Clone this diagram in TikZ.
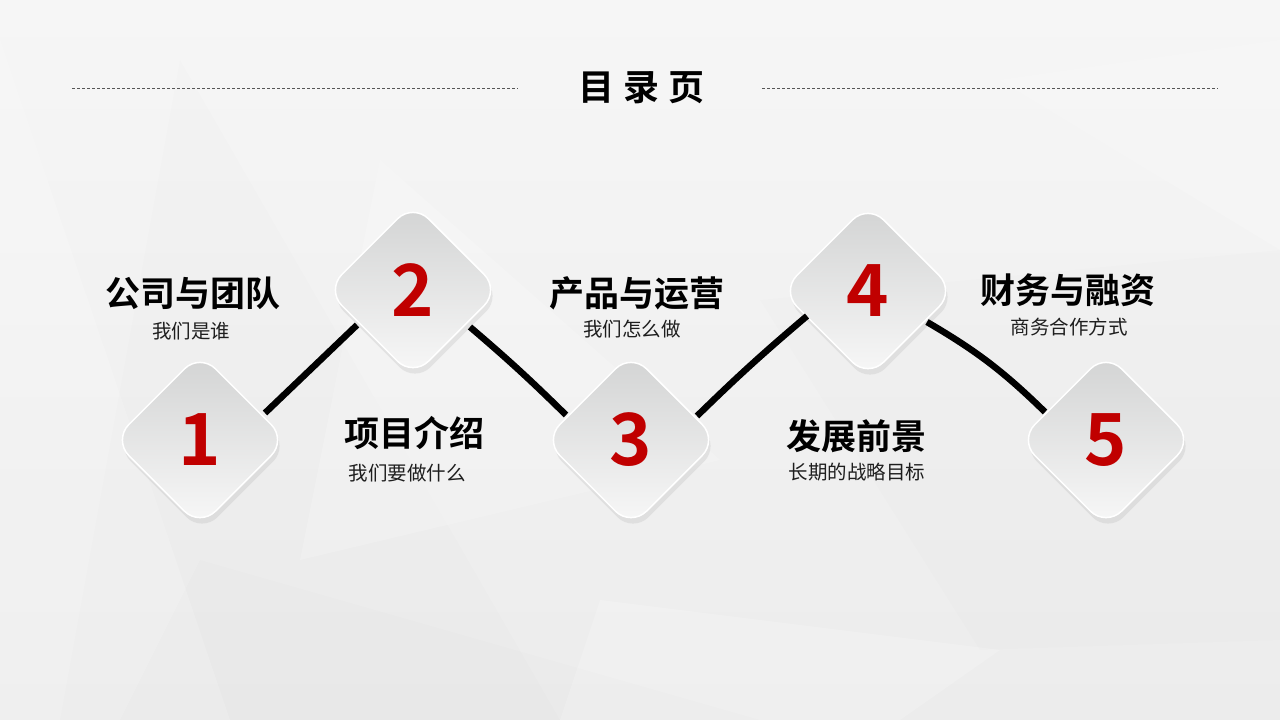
\documentclass[tikz,border=0pt]{standalone}
\usepackage{fontspec}
\setmainfont{Noto Sans CJK SC}[BoldFont={Noto Sans CJK SC Bold}]
\usetikzlibrary{shapes.geometric,shadows}
\definecolor{bgtop}{HTML}{F6F6F6}
\definecolor{bgbot}{HTML}{ECECEC}
\definecolor{diatop}{HTML}{D2D3D3}
\definecolor{diabot}{HTML}{F8F8F8}
\definecolor{numred}{HTML}{C00000}
\definecolor{dashgray}{HTML}{555555}
\definecolor{subtext}{HTML}{1E1E1E}
\tikzset{
  dia/.style={diamond, aspect=1, minimum width=174pt, minimum height=174pt,
    inner sep=0pt, rounded corners=22pt, top color=diatop, bottom color=diabot,
    draw=white, line width=1.5pt,
    drop shadow={shadow xshift=2pt, shadow yshift=-6pt, opacity=0.14},
    font=\bfseries\fontsize{72}{72}\selectfont, text=numred},
  wave/.style={line width=6.5pt, black, line cap=butt},
  head/.style={font=\bfseries\fontsize{35}{40}\selectfont, text=black, inner sep=0pt},
  sub/.style={font=\fontsize{19.5}{22}\selectfont, text=subtext, inner sep=0pt},
  dashline/.style={dash pattern=on 3pt off 2pt, line width=0.8pt, dashgray},
  facet/.style={fill=white, opacity=0.18, draw=none},
  facetd/.style={fill=black, opacity=0.008, draw=none}
}
\begin{document}
\begin{tikzpicture}[x=1pt,y=1pt]
\useasboundingbox (0,0) rectangle (1280,-720);
% background
\fill[top color=bgtop, bottom color=bgbot] (0,0) rectangle (1280,-720);
\fill[facet] (0,-40) -- (230,-720) -- (0,-720) -- cycle;
\fill[facetd] (180,-60) -- (560,-720) -- (60,-720) -- cycle;
\fill[facet] (380,-160) -- (720,-460) -- (300,-560) -- cycle;
\fill[facetd] (760,-300) -- (1280,-250) -- (1280,-640) -- (980,-650) -- cycle;
\fill[facet] (1000,-80) -- (1280,-40) -- (1280,-250) -- cycle;
\fill[facetd] (200,-560) -- (760,-720) -- (120,-720) -- cycle;
\fill[facet] (600,-600) -- (1000,-650) -- (900,-720) -- (560,-720) -- cycle;
% title
\coordinate (la) at (72,-88);
\coordinate (lb) at (518,-88);
\coordinate (lc) at (762,-88);
\coordinate (ld) at (1218,-88);
\draw[dashline] (la) -- (lb);
\draw[dashline] (lc) -- (ld);
\node[font=\bfseries\fontsize{36}{40}\selectfont, inner sep=0pt] (title) at (641,-88) {目\hspace{9pt}录\hspace{9pt}页};
% diamonds
\node[dia] (d1) at (200,-440) {1};
\node[dia] (d2) at (413,-290) {2};
\node[dia] (d3) at (631,-440) {3};
\node[dia] (d4) at (868,-291) {4};
\node[dia] (d5) at (1106,-440) {5};
% wave connectors
\draw[wave] ([shift={(65,27)}]d1.center) -- ([shift={(-56,-35)}]d2.center);
\draw[wave] ([shift={(57,-37)}]d2.center) to[bend left=2] ([shift={(-65,25)}]d3.center);
\draw[wave] ([shift={(66,24)}]d3.center) to[bend left=2] ([shift={(-61,-25)}]d4.center);
\draw[wave] ([shift={(59,-31)}]d4.center) to[bend left=7] ([shift={(-61,28)}]d5.center);
% labels
\node[head] (h1) at (193,-293) {公司与团队};
\node[sub]  (s1) at (191,-331) {我们是谁};
\node[head] (h2) at (414,-433) {项目介绍};
\node[sub]  (s2) at (407,-473) {我们要做什么};
\node[head] (h3) at (637,-293) {产品与运营};
\node[sub]  (s3) at (632,-329) {我们怎么做};
\node[head] (h4) at (856,-436) {发展前景};
\node[sub]  (s4) at (857,-472) {长期的战略目标};
\node[head] (h5) at (1068,-290) {财务与融资};
\node[sub]  (s5) at (1069,-327) {商务合作方式};
\end{tikzpicture}
\end{document}
